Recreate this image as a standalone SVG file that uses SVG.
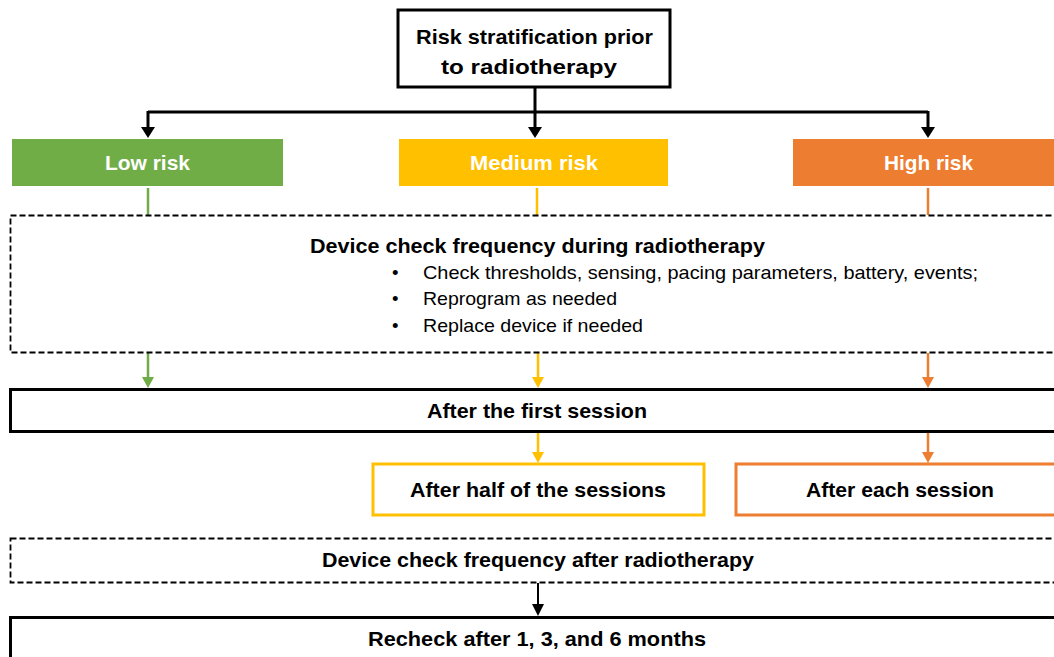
<svg xmlns="http://www.w3.org/2000/svg" width="1054" height="657" viewBox="0 0 1054 657">
<style>
text{font-family:"Liberation Sans",Arial,sans-serif;fill:#000}
.b{font-weight:bold;font-size:20.5px;text-anchor:middle}
.w{fill:#fff}
.r{font-size:18.5px}
.box{fill:#fff;stroke:#000;stroke-width:3}
.dash{fill:#fff;stroke:#000;stroke-width:1.8;stroke-dasharray:6 3}
.k{stroke:#000;stroke-width:3;fill:none}
.g{stroke:#70AD47;stroke-width:2.5;fill:none}
.y{stroke:#FFC000;stroke-width:2.5;fill:none}
.o{stroke:#ED7D31;stroke-width:2.5;fill:none}
</style>
<rect width="1054" height="657" fill="#fff"/>
<g id="connectors">
<path class="k" d="M535,88 V112 M148,112 H928 M148,111 V128 M535,112 V128 M928,111 V128"/>
<polygon points="141,127 155,127 148,138" fill="#000"/>
<polygon points="528,127 542,127 535,138" fill="#000"/>
<polygon points="921,127 935,127 928,138" fill="#000"/>
<path class="g" d="M148,188 V215 M148,353 V378"/>
<polygon points="142,377 154,377 148,388" fill="#70AD47"/>
<path class="y" d="M537,188 V215 M538,353 V378 M538,433 V453"/>
<polygon points="532,377 544,377 538,388" fill="#FFC000"/>
<polygon points="532,452 544,452 538,463" fill="#FFC000"/>
<path class="o" d="M928,188 V215 M928,353 V378 M928,433 V453"/>
<polygon points="922,377 934,377 928,388" fill="#ED7D31"/>
<polygon points="922,452 934,452 928,463" fill="#ED7D31"/>
<path stroke="#000" stroke-width="2" d="M538,583 V605"/>
<polygon points="532,604 544,604 538,616" fill="#000"/>
</g>
<g id="top">
<rect class="box" x="398" y="10" width="272" height="77"/>
<text class="b" x="534.5" y="44" textLength="237" lengthAdjust="spacingAndGlyphs">Risk stratification prior</text>
<text class="b" x="529" y="74" textLength="176" lengthAdjust="spacingAndGlyphs">to radiotherapy</text>
</g>
<g id="low">
<rect x="12" y="139" width="271" height="47" fill="#70AD47"/>
<text class="b w" x="147.5" y="170" textLength="85" lengthAdjust="spacingAndGlyphs">Low risk</text>
</g>
<g id="medium">
<rect x="399" y="139" width="269" height="47" fill="#FFC000"/>
<text class="b w" x="534" y="170" textLength="128" lengthAdjust="spacingAndGlyphs">Medium risk</text>
</g>
<g id="high">
<rect x="793" y="139" width="280" height="47" fill="#ED7D31"/>
<text class="b w" x="928.5" y="170" textLength="89" lengthAdjust="spacingAndGlyphs">High risk</text>
</g>
<g id="during">
<rect class="dash" x="10.5" y="215.5" width="1060" height="137"/>
<text class="b" x="537.5" y="253" textLength="455" lengthAdjust="spacingAndGlyphs">Device check frequency during radiotherapy</text>
<text class="r" x="392" y="279">•</text>
<text class="r" x="423" y="279" textLength="555" lengthAdjust="spacingAndGlyphs">Check thresholds, sensing, pacing parameters, battery, events;</text>
<text class="r" x="392" y="305">•</text>
<text class="r" x="423" y="305" textLength="194" lengthAdjust="spacingAndGlyphs">Reprogram as needed</text>
<text class="r" x="392" y="332">•</text>
<text class="r" x="423" y="332" textLength="220" lengthAdjust="spacingAndGlyphs">Replace device if needed</text>
</g>
<g id="first">
<rect class="box" x="10.5" y="389.5" width="1060" height="42"/>
<text class="b" x="537" y="418" textLength="220" lengthAdjust="spacingAndGlyphs">After the first session</text>
</g>
<g id="half">
<rect x="373" y="464" width="331" height="51" fill="#fff" stroke="#FFC000" stroke-width="3"/>
<text class="b" x="538" y="497" textLength="256" lengthAdjust="spacingAndGlyphs">After half of the sessions</text>
</g>
<g id="each">
<rect x="736" y="464" width="330" height="51" fill="#fff" stroke="#ED7D31" stroke-width="3"/>
<text class="b" x="900" y="497" textLength="188" lengthAdjust="spacingAndGlyphs">After each session</text>
</g>
<g id="after">
<rect class="dash" x="10.5" y="538.5" width="1060" height="44"/>
<text class="b" x="538" y="567" textLength="432" lengthAdjust="spacingAndGlyphs">Device check frequency after radiotherapy</text>
</g>
<g id="recheck">
<rect class="box" x="10.5" y="617.5" width="1060" height="60"/>
<text class="b" x="537" y="646" textLength="338" lengthAdjust="spacingAndGlyphs">Recheck after 1, 3, and 6 months</text>
</g>
</svg>
